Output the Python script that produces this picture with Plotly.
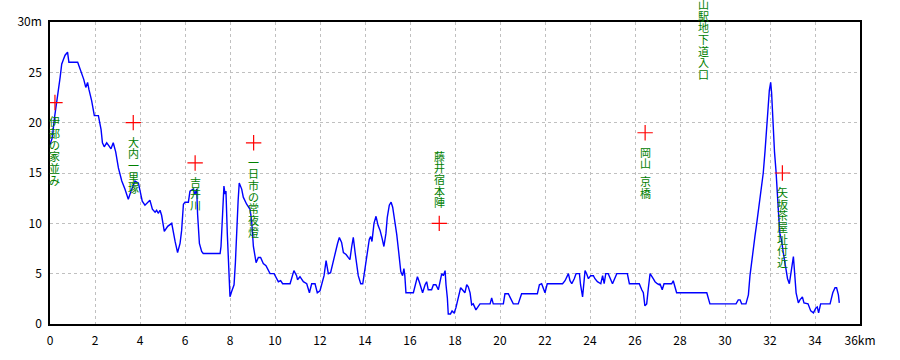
import plotly.graph_objects as go

# ---- data ----
distance_km = [0.0, 0.1, 0.2, 0.28, 0.37, 0.45, 0.52, 0.6, 0.67, 0.78, 0.84, 1.23, 1.3, 1.41, 1.5, 1.59, 1.67, 1.73, 1.85, 1.97,
               2.15, 2.27, 2.33, 2.41, 2.52, 2.62, 2.71, 2.81, 2.92, 3.04, 3.19, 3.33, 3.48, 3.6, 3.78, 3.93, 4.0, 4.1, 4.22, 4.34,
               4.44, 4.55, 4.67, 4.74, 4.81, 4.89, 4.96, 5.08, 5.23, 5.41, 5.48, 5.56, 5.67, 5.78, 5.85, 5.93, 6.0, 6.15, 6.22, 6.37,
               6.44, 6.52, 6.56, 6.59, 6.64, 6.74, 6.81, 7.56, 7.6, 7.67, 7.73, 7.78, 7.82, 7.88, 7.94, 8.0, 8.07, 8.18, 8.24, 8.3,
               8.36, 8.41, 8.52, 8.59, 8.74, 8.89, 8.96, 9.04, 9.16, 9.26, 9.36, 9.48, 9.6, 9.78, 9.96, 10.15, 10.25, 10.34, 10.67, 10.84,
               10.96, 11.0, 11.11, 11.26, 11.41, 11.53, 11.63, 11.78, 11.88, 12.0, 12.1, 12.18, 12.27, 12.33, 12.37, 12.47, 12.59, 12.71, 12.78, 12.86,
               12.96, 13.04, 13.16, 13.26, 13.33, 13.41, 13.48, 13.56, 13.63, 13.7, 13.81, 13.9, 14.0, 14.1, 14.19, 14.25, 14.31, 14.4, 14.49, 14.58,
               14.67, 14.76, 14.84, 14.93, 14.99, 15.08, 15.16, 15.23, 15.33, 15.41, 15.5, 15.59, 15.67, 15.73, 15.77, 15.82, 16.15, 16.27, 16.33, 16.41,
               16.56, 16.67, 16.74, 16.81, 16.96, 17.04, 17.15, 17.26, 17.33, 17.41, 17.48, 17.56, 17.6, 17.66, 17.7, 17.8, 17.87, 17.96, 18.04, 18.15,
               18.25, 18.33, 18.44, 18.52, 18.59, 18.67, 18.74, 18.81, 18.87, 18.93, 19.11, 19.56, 19.63, 19.7, 20.15, 20.22, 20.37, 20.52, 20.59, 20.81,
               20.96, 21.66, 21.75, 21.85, 22.0, 22.1, 22.78, 22.89, 23.04, 23.11, 23.19, 23.3, 23.38, 23.53, 23.58, 23.67, 23.73, 23.78, 23.85, 23.93,
               24.03, 24.15, 24.22, 24.33, 24.48, 24.56, 24.63, 24.7, 24.81, 24.92, 25.0, 25.19, 25.66, 25.75, 26.19, 26.3, 26.37, 26.44, 26.52, 26.59,
               26.67, 26.81, 26.89, 26.99, 27.08, 27.11, 27.21, 27.29, 27.63, 27.7, 27.78, 27.85, 29.19, 29.26, 29.33, 30.49, 30.59, 30.67, 30.74, 30.93,
               31.04, 31.11, 31.19, 31.26, 31.33, 31.41, 31.52, 31.63, 31.7, 31.78, 31.85, 31.92, 31.97, 32.03, 32.07, 32.1, 32.15, 32.2, 32.27, 32.3,
               32.37, 32.44, 32.52, 32.59, 32.7, 32.78, 32.86, 32.9, 32.98, 33.04, 33.08, 33.16, 33.26, 33.33, 33.44, 33.51, 33.69, 33.81, 33.93, 34.04,
               34.1, 34.16, 34.25, 34.67, 34.79, 34.89, 34.96, 35.04, 35.08]
elevation_m = [17.8, 18.5, 20.5, 22.0, 23.2, 24.5, 25.8, 26.3, 26.7, 27.0, 26.0, 26.0, 25.6, 25.0, 24.3, 23.5, 24.0, 23.3, 22.2, 20.7,
               20.7, 19.3, 18.0, 17.6, 18.0, 17.7, 17.4, 18.0, 17.1, 15.5, 14.2, 13.4, 12.4, 13.2, 14.2, 14.0, 13.2, 12.2, 11.8, 12.1,
               12.3, 11.4, 11.1, 11.3, 11.0, 11.3, 10.8, 9.2, 9.7, 10.0, 9.0, 8.2, 7.1, 8.0, 9.3, 11.9, 12.1, 12.1, 13.2, 13.4,
               12.9, 13.4, 10.9, 9.5, 8.0, 7.2, 7.0, 7.0, 7.7, 10.9, 13.7, 12.9, 13.2, 9.0, 5.0, 2.7, 3.2, 3.9, 6.1, 9.7,
               12.2, 14.0, 13.4, 12.6, 11.9, 11.4, 10.3, 7.7, 6.1, 6.6, 6.6, 6.0, 5.8, 5.0, 5.0, 4.2, 4.3, 4.0, 4.0, 5.3,
               4.8, 4.4, 4.7, 4.2, 4.0, 3.1, 4.0, 4.0, 3.1, 3.3, 4.2, 4.8, 6.3, 5.6, 5.0, 5.1, 6.3, 7.4, 8.0, 8.6,
               8.1, 7.1, 6.9, 6.6, 6.4, 7.7, 8.6, 7.1, 5.8, 4.8, 4.0, 4.0, 5.5, 6.8, 8.4, 8.7, 8.2, 10.0, 10.7, 9.8,
               9.3, 8.5, 7.7, 9.0, 10.6, 11.8, 12.1, 11.6, 10.3, 8.9, 7.1, 5.2, 4.8, 5.5, 4.8, 3.1, 3.1, 4.2, 4.7, 4.2,
               3.1, 3.9, 4.2, 3.4, 3.4, 3.9, 3.9, 3.4, 4.3, 5.0, 4.8, 5.3, 3.9, 2.6, 1.0, 1.0, 1.3, 1.1, 1.6, 2.7,
               3.6, 3.4, 3.1, 3.9, 3.7, 3.1, 1.9, 2.0, 1.6, 1.4, 2.0, 2.0, 2.6, 2.0, 2.0, 3.0, 3.0, 2.4, 2.0, 2.0,
               3.0, 3.0, 3.9, 4.0, 3.1, 4.0, 4.0, 4.3, 5.0, 4.3, 4.0, 4.5, 5.0, 5.0, 3.9, 2.7, 4.3, 5.3, 5.0, 4.5,
               4.8, 4.8, 4.5, 4.2, 4.0, 4.8, 4.0, 5.0, 5.0, 4.5, 4.0, 5.0, 5.0, 4.0, 4.0, 3.4, 3.1, 1.8, 2.0, 3.5,
               5.0, 4.5, 4.2, 4.0, 3.9, 4.0, 3.4, 4.0, 4.0, 4.3, 3.5, 3.1, 3.1, 2.6, 2.0, 2.0, 2.4, 2.4, 2.0, 2.0,
               2.9, 4.8, 6.4, 7.6, 8.7, 10.0, 11.9, 13.8, 15.0, 17.2, 20.0, 21.6, 23.2, 24.0, 23.0, 21.4, 19.2, 17.1, 15.1, 13.5,
               11.3, 9.0, 8.2, 7.1, 5.5, 4.5, 4.0, 4.5, 5.8, 6.7, 5.1, 3.1, 2.1, 2.4, 2.7, 2.1, 2.0, 1.3, 1.1, 1.6,
               1.7, 1.1, 2.0, 2.0, 3.1, 3.6, 3.6, 2.9, 2.1]

label_names = ["伊部の家並み", "大内一里塚", "吉井川", "一日市の常夜燈", "藤井宿本陣",
               "岡山 京橋", "岡山駅地下道入口", "矢坂茶屋址付近"]
label_km = [0.22, 3.7, 6.45, 9.05, 17.3, 26.45, 29.05, 32.55]
label_m = [22.0, 20.0, 16.0, 18.0, 10.0, 19.0, 34.7, 15.0]
label_above = [False, False, False, False, True, False, False, False]

x_tickvals = [0, 2, 4, 6, 8, 10, 12, 14, 16, 18, 20, 22, 24, 26, 28, 30, 32, 34, 36]
x_ticktext = ["0", "2", "4", "6", "8", "10", "12", "14", "16", "18", "20", "22", "24", "26", "28", "30", "32", "34", "36km"]
y_tickvals = [0, 5, 10, 15, 20, 25, 30]
y_ticktext = ["0", "5", "10", "15", "20", "25", "30m"]

# ---- layout constants ----
W, H = 900, 360
ML, MR, MT, MB = 50, 40, 19, 30
Y_MAX = 30
PPU = (H - MT - MB) / Y_MAX  # pixels per metre
CHAR_H = 11.7
GAP = 13
LABEL_FONT = dict(family="Noto Sans CJK JP", size=11, color="#008000")

fig = go.Figure()
fig.add_trace(go.Scatter(x=distance_km, y=elevation_m, mode="lines",
                         line=dict(color="#0000FF", width=1.4), hoverinfo="skip"))
fig.add_trace(go.Scatter(x=label_km, y=label_m, mode="markers",
                         marker=dict(symbol="cross-thin", size=11, line=dict(color="#FF0000", width=1.2)),
                         cliponaxis=True, hoverinfo="skip"))

annotations = []
for name, lx, ly, above in zip(label_names, label_km, label_m, label_above):
    anchor_y = min(ly, Y_MAX)
    extra = (ly - anchor_y) * PPU
    chars = list(name)
    heights = [CHAR_H / 2 if c == " " else CHAR_H for c in chars]
    total = sum(heights)
    # cur = vertical offset (px, up positive) of the top of the current character
    cur = (GAP + 2 + total) if above else -GAP
    for c, h in zip(chars, heights):
        center = cur - h / 2
        if c != " ":
            annotations.append(dict(x=lx, y=anchor_y, xref="x", yref="y", text=c, showarrow=False,
                                    xanchor="center", yanchor="middle", yshift=center + extra,
                                    borderpad=0, font=LABEL_FONT))
        cur -= h

fig.update_layout(
    width=W, height=H,
    margin=dict(l=ML, r=MR, t=MT, b=MB, pad=0),
    paper_bgcolor="white", plot_bgcolor="white",
    showlegend=False,
    annotations=annotations,
    font=dict(family="Noto Sans CJK JP", size=12, color="black"),
)
fig.update_xaxes(range=[0, 36], tickvals=x_tickvals, ticktext=x_ticktext,
                 showgrid=True, gridcolor="#C0C0C0", griddash="3px,3px", gridwidth=1,
                 showline=True, linecolor="black", linewidth=1.5, mirror=True,
                 ticks="", ticklabelstandoff=5, zeroline=False,
                 tickfont=dict(family="Noto Sans CJK JP", size=12, color="black"))
fig.update_yaxes(range=[0, Y_MAX], tickvals=y_tickvals, ticktext=y_ticktext,
                 showgrid=True, gridcolor="#C0C0C0", griddash="3px,3px", gridwidth=1,
                 showline=True, linecolor="black", linewidth=1.5, mirror=True,
                 ticks="", ticklabelstandoff=4, zeroline=False,
                 tickfont=dict(family="Noto Sans CJK JP", size=12, color="black"))

fig.write_html("out.html")
